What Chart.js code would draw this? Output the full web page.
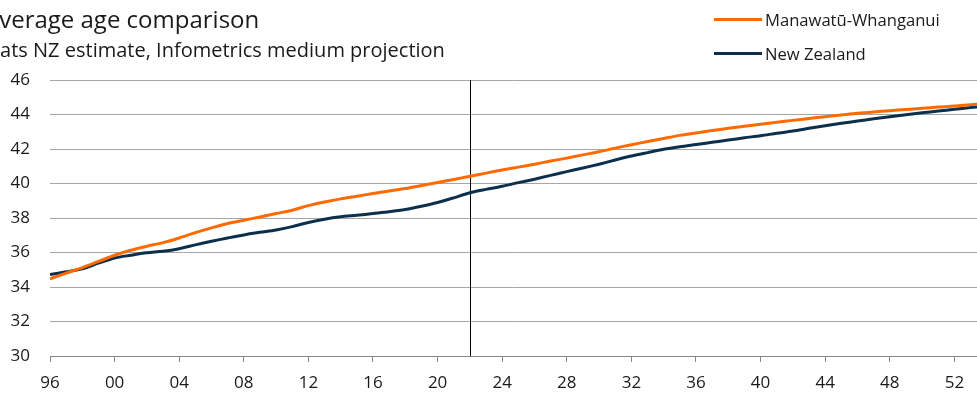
<!DOCTYPE html>
<html>
<head>
<meta charset="utf-8">
<script src="https://cdn.jsdelivr.net/npm/chart.js@4.4.1/dist/chart.umd.min.js"></script>
<style>
  body { margin: 0; width: 977px; height: 395px; overflow: hidden; position: relative; background: #fff; font-family: 'Open Sans', sans-serif; color: #1a1a1a; }
  .title { position: absolute; left: -16px; top: 2px; font-size: 24px; white-space: nowrap; }
  .subtitle { position: absolute; left: -18px; top: 36px; font-size: 20px; white-space: nowrap; }
  #legend { position: absolute; left: 714px; top: 2px; }
  .item { display: flex; align-items: center; height: 34px; font-size: 16.6px; }
  .swatch { width: 48px; height: 3px; margin-right: 3px; }
  .wrap { position: absolute; left: 0; top: 0; width: 977px; height: 395px; }
</style>
</head>
<body>
<div class="wrap"><canvas id="ageChart"></canvas></div>
<div class="title">Average age comparison</div>
<div class="subtitle">Stats NZ estimate, Infometrics medium projection</div>
<div id="legend"></div>
<script>
// years 1996 - 2054
const years = [];
for (let y = 1996; y <= 2054; y++) years.push(y);

const manawatu = [
  34.48, 34.80, 35.12, 35.48, 35.84, 36.13, 36.36, 36.57, 36.84, 37.15,
  37.43, 37.68, 37.87, 38.06, 38.26, 38.45, 38.72, 38.93, 39.11, 39.26,
  39.42, 39.57, 39.71, 39.88, 40.06, 40.23, 40.42, 40.60, 40.78, 40.95,
  41.12, 41.30, 41.47, 41.66, 41.84, 42.05, 42.25, 42.43, 42.61, 42.79,
  42.93, 43.07, 43.20, 43.32, 43.43, 43.55, 43.66, 43.77, 43.87, 43.97,
  44.07, 44.15, 44.22, 44.29, 44.36, 44.43, 44.49, 44.57, 44.64
];
const newZealand = [
  34.72, 34.88, 35.06, 35.38, 35.68, 35.84, 35.98, 36.07, 36.22, 36.44,
  36.65, 36.84, 37.02, 37.17, 37.31, 37.50, 37.74, 37.93, 38.07, 38.16,
  38.26, 38.36, 38.49, 38.68, 38.90, 39.17, 39.46, 39.66, 39.84, 40.05,
  40.25, 40.47, 40.69, 40.90, 41.12, 41.36, 41.59, 41.79, 41.98, 42.13,
  42.26, 42.39, 42.52, 42.65, 42.77, 42.91, 43.04, 43.20, 43.35, 43.49,
  43.62, 43.75, 43.87, 43.99, 44.10, 44.20, 44.30, 44.40, 44.49
];
const projectionStart = 2022;

const seriesNames = ['Manawatū-Whanganui', 'New Zealand'];
const seriesColors = ['#ff6a00', '#0c2f4c'];

// vertical marker where the projection starts
const markerLine = {
  id: 'markerLine',
  beforeDatasetsDraw(chart) {
    const { ctx, chartArea, scales } = chart;
    const x = Math.round(scales.x.getPixelForValue(projectionStart)) + 0.5;
    ctx.save();
    ctx.strokeStyle = '#000';
    ctx.lineWidth = 1;
    ctx.beginPath();
    ctx.moveTo(x, chartArea.top);
    ctx.lineTo(x, chartArea.bottom);
    ctx.stroke();
    ctx.restore();
  }
};

const toPoints = arr => years.map((yr, i) => ({ x: yr, y: arr[i] }));

Chart.defaults.font.family = "'Open Sans', sans-serif";
Chart.defaults.color = '#1a1a1a';

const chart = new Chart(document.getElementById('ageChart'), {
  type: 'line',
  data: {
    datasets: [manawatu, newZealand].map((vals, i) => ({
      label: seriesNames[i],
      data: toPoints(vals),
      borderColor: seriesColors[i],
      borderWidth: 3,
      pointRadius: 0,
      tension: 0.3,
      fill: false
    }))
  },
  options: {
    responsive: true,
    maintainAspectRatio: false,
    animation: false,
    layout: { padding: { top: 80, left: 10, right: 0, bottom: 2 } },
    plugins: {
      legend: { display: false },
      tooltip: { enabled: false }
    },
    scales: {
      x: {
        type: 'linear',
        min: 1996,
        max: 2053.4,
        afterFit: s => { s.height = 37; },
        grid: { drawOnChartArea: false, drawTicks: true, tickLength: 6, color: '#888' },
        border: { color: '#888' },
        ticks: {
          stepSize: 4,
          includeBounds: false,
          padding: 11,
          font: { size: 17 },
          maxRotation: 0,
          callback: v => String(v).slice(-2)
        }
      },
      y: {
        min: 30,
        max: 46,
        afterFit: s => { s.width = 40; },
        grid: { color: '#a6a6a6', drawTicks: false },
        border: { display: false },
        ticks: { stepSize: 2, padding: 20, font: { size: 17 } }
      }
    }
  },
  plugins: [markerLine]
});

// html legend from the datasets
const legend = document.getElementById('legend');
chart.data.datasets.forEach(ds => {
  const item = document.createElement('div');
  item.className = 'item';
  item.innerHTML = '<span class="swatch" style="background:' + ds.borderColor + '"></span>' + ds.label;
  legend.appendChild(item);
});
</script>
</body>
</html>
